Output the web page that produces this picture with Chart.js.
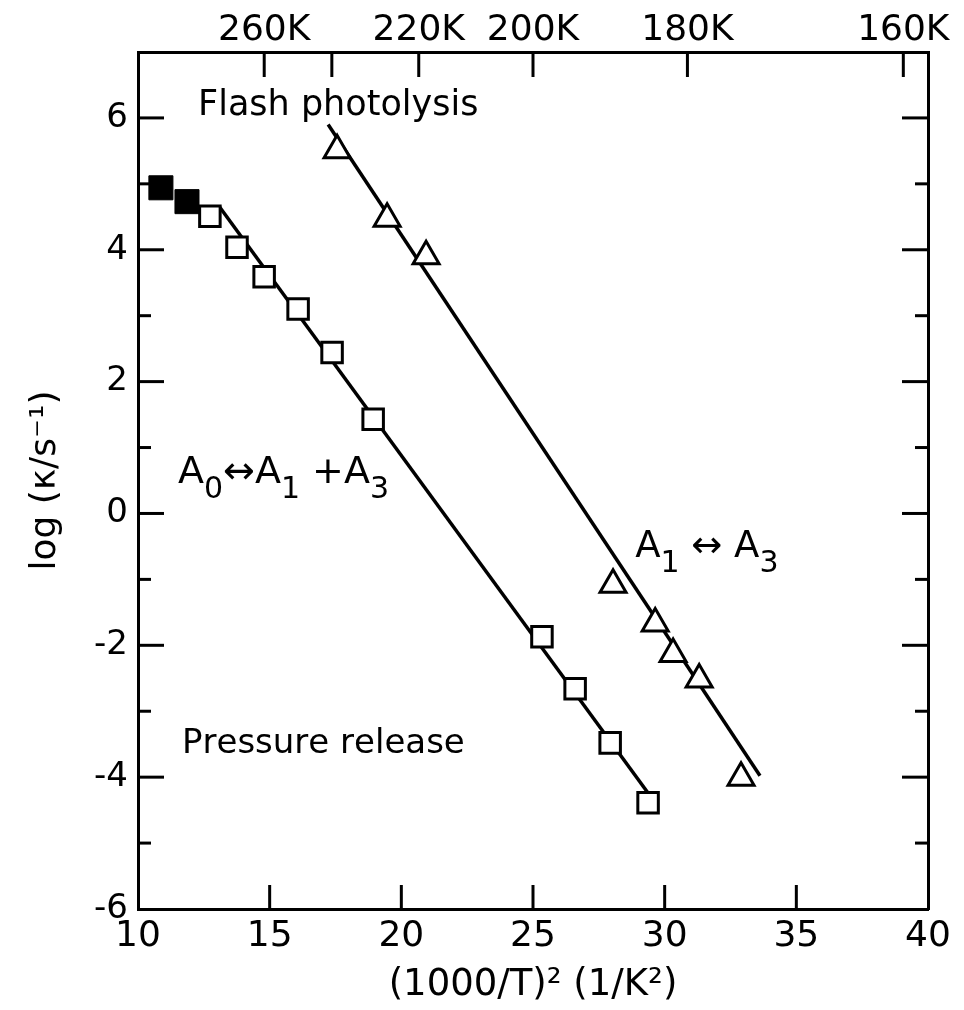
<!DOCTYPE html>
<html>
<head>
<meta charset="utf-8">
<script src="https://cdn.jsdelivr.net/npm/chart.js@4.4.0/dist/chart.umd.min.js"></script>
<style>
  body { margin: 0; background: #fff; }
  #box { width: 964px; height: 1010px; position: relative; }
</style>
</head>
<body>
<div id="box"><canvas id="rateChart"></canvas></div>
<script>
// pressure release (squares) - first two are the filled ones
var filledX = [10.87, 11.86];
var filledY = [4.94, 4.73];
var openX = [12.73, 13.76, 14.79, 16.08, 17.37, 18.93, 25.34, 26.60, 27.93, 29.37];
var openY = [4.51, 4.04, 3.59, 3.10, 2.44, 1.43, -1.87, -2.66, -3.48, -4.39];

// flash photolysis (triangles)
var flashX = [17.56, 19.46, 20.94, 28.04, 29.64, 30.32, 31.31, 32.90];
var flashY = [5.51, 4.47, 3.90, -1.08, -1.67, -2.13, -2.52, -4.01];

// fitted lines, end points
var pressFitX = [13.1, 29.37];
var pressFitY = [4.65, -4.24];
var flashFitX = [17.22, 33.62];
var flashFitY = [5.90, -3.98];

// top temperature axis
var topTemps = [260, 240, 220, 200, 180, 160];
var topLabels = ['260K', '', '220K', '200K', '180K', '160K'];

var notes = ['Flash photolysis', 'A\u2080\u2194A\u2081 +A\u2083', 'A\u2081 \u2194 A\u2083', 'Pressure release'];

function toPoints(xs, ys) {
  var pts = [];
  for (let i = 0; i < xs.length; i++) {
    pts.push({ x: xs[i], y: ys[i] });
  }
  return pts;
}

var FONT = "'DejaVu Sans', 'Liberation Sans', sans-serif";
var SUBS = { '\u2080': '0', '\u2081': '1', '\u2083': '3' };

// writes a note char by char so the subscripts come out big like the lettering
function drawNote(ctx, text, x, y, size) {
  for (const ch of text) {
    if (SUBS[ch]) {
      ctx.font = Math.round(size * 0.8) + 'px ' + FONT;
      ctx.fillText(SUBS[ch], x, y + size * 0.4);
      x += ctx.measureText(SUBS[ch]).width;
    } else {
      ctx.font = size + 'px ' + FONT;
      ctx.fillText(ch, x, y);
      x += ctx.measureText(ch).width;
    }
  }
}

// ticks drawn inward on all four sides
const inwardTicks = {
  id: 'inwardTicks',
  beforeDatasetsDraw(chart) {
    const ctx = chart.ctx;
    const area = chart.chartArea;
    ctx.save();
    ctx.strokeStyle = '#000';
    ctx.lineWidth = 3;
    ['x', 'x2'].forEach(function (id) {
      const s = chart.scales[id];
      s.ticks.forEach(function (t) {
        if (t.value <= s.min || t.value >= s.max) return;
        const px = s.getPixelForValue(t.value);
        ctx.beginPath();
        if (id == 'x') {
          ctx.moveTo(px, area.bottom); ctx.lineTo(px, area.bottom - 24);
        } else {
          ctx.moveTo(px, area.top); ctx.lineTo(px, area.top + 25);
        }
        ctx.stroke();
      });
    });
    ['y', 'y2'].forEach(function (id) {
      const s = chart.scales[id];
      s.ticks.forEach(function (t) {
        if (t.value <= s.min || t.value >= s.max) return;
        const py = s.getPixelForValue(t.value);
        const len = (Math.abs(t.value) % 2 == 0) ? 26 : 13;
        ctx.beginPath();
        if (id == 'y') {
          ctx.moveTo(area.left, py); ctx.lineTo(area.left + len, py);
        } else {
          ctx.moveTo(area.right, py); ctx.lineTo(area.right - len, py);
        }
        ctx.stroke();
      });
    });
    ctx.restore();
  }
};

// text notes inside the plot, placed in data units
const noteText = {
  id: 'noteText',
  afterDatasetsDraw(chart) {
    const ctx = chart.ctx;
    const sx = chart.scales.x, sy = chart.scales.y;
    const spots = [
      { x: 12.28, y: 6.05, size: 35 },
      { x: 11.52, y: 0.46, size: 38 },
      { x: 28.88, y: -0.66, size: 37 },
      { x: 11.67, y: -3.63, size: 34 }
    ];
    ctx.save();
    ctx.fillStyle = '#000';
    ctx.textAlign = 'left';
    ctx.textBaseline = 'alphabetic';
    for (let i = 0; i < notes.length; i++) {
      drawNote(ctx, notes[i], sx.getPixelForValue(spots[i].x), sy.getPixelForValue(spots[i].y), spots[i].size);
    }
    ctx.restore();
  }
};

var datasets = [
  {
    label: 'filled',
    data: toPoints(filledX, filledY),
    pointStyle: 'rect',
    pointRadius: 17,
    backgroundColor: '#000',
    borderColor: '#000',
    borderWidth: 1
  },
  {
    label: 'open',
    data: toPoints(openX, openY),
    pointStyle: 'rect',
    pointRadius: 14.5,
    backgroundColor: '#fff',
    borderColor: '#000',
    borderWidth: 3
  },
  {
    label: 'flash',
    data: toPoints(flashX, flashY),
    pointStyle: 'triangle',
    pointRadius: 15,
    backgroundColor: '#fff',
    borderColor: '#000',
    borderWidth: 3
  },
  {
    label: 'pressure fit',
    data: toPoints(pressFitX, pressFitY),
    showLine: true,
    pointRadius: 0,
    borderColor: '#000',
    borderWidth: 3.5
  },
  {
    label: 'flash fit',
    data: toPoints(flashFitX, flashFitY),
    showLine: true,
    pointRadius: 0,
    borderColor: '#000',
    borderWidth: 3.5
  }
];

var config = {
  type: 'scatter',
  data: { datasets: datasets },
  options: {
    responsive: true,
    maintainAspectRatio: false,
    animation: false,
    layout: { padding: 0 },
    plugins: {
      legend: { display: false },
      tooltip: { enabled: false }
    },
    scales: {
      x: {
        type: 'linear',
        position: 'bottom',
        min: 10,
        max: 40,
        grid: { display: false, drawTicks: false },
        border: { display: true, color: '#000', width: 3 },
        ticks: { stepSize: 5, padding: 6, color: '#000', maxRotation: 0, font: { family: FONT, size: 36 } },
        title: {
          display: true,
          text: '(1000/T)\u00B2 (1/K\u00B2)',
          color: '#000',
          font: { family: FONT, size: 37 },
          padding: { top: 0, bottom: 2 }
        },
        afterFit: function (scale) { scale.height = 101; }
      },
      x2: {
        type: 'linear',
        position: 'top',
        min: 10,
        max: 40,
        grid: { display: false, drawTicks: false },
        border: { display: true, color: '#000', width: 3 },
        afterBuildTicks: function (scale) {
          scale.ticks = topTemps.map(function (T) { return { value: Math.pow(1000 / T, 2) }; });
        },
        ticks: {
          autoSkip: false,
          maxRotation: 0,
          padding: 0,
          color: '#000',
          font: { family: FONT, size: 36 },
          callback: function (value, index) { return topLabels[index]; }
        },
        afterFit: function (scale) { scale.height = 52; }
      },
      y: {
        type: 'linear',
        position: 'left',
        min: -6,
        max: 7,
        grid: { display: false, drawTicks: false },
        border: { display: true, color: '#000', width: 3 },
        ticks: {
          stepSize: 1,
          padding: 10,
          color: '#000',
          font: { family: FONT, size: 34 },
          callback: function (value) { return (value % 2 == 0 && value < 7) ? String(value) : ''; }
        },
        title: {
          display: true,
          text: 'log (\u03BA/s\u207B\u00B9)',
          color: '#000',
          font: { family: FONT, size: 36 },
          padding: { top: 24, bottom: 0 }
        },
        afterFit: function (scale) { scale.width = 138; }
      },
      y2: {
        type: 'linear',
        position: 'right',
        min: -6,
        max: 7,
        grid: { display: false, drawTicks: false },
        border: { display: true, color: '#000', width: 3 },
        ticks: { stepSize: 1, display: false },
        afterFit: function (scale) { scale.width = 36; }
      }
    }
  },
  plugins: [inwardTicks, noteText]
};

const ctxRate = document.getElementById('rateChart');
new Chart(ctxRate, config);
</script>
</body>
</html>
